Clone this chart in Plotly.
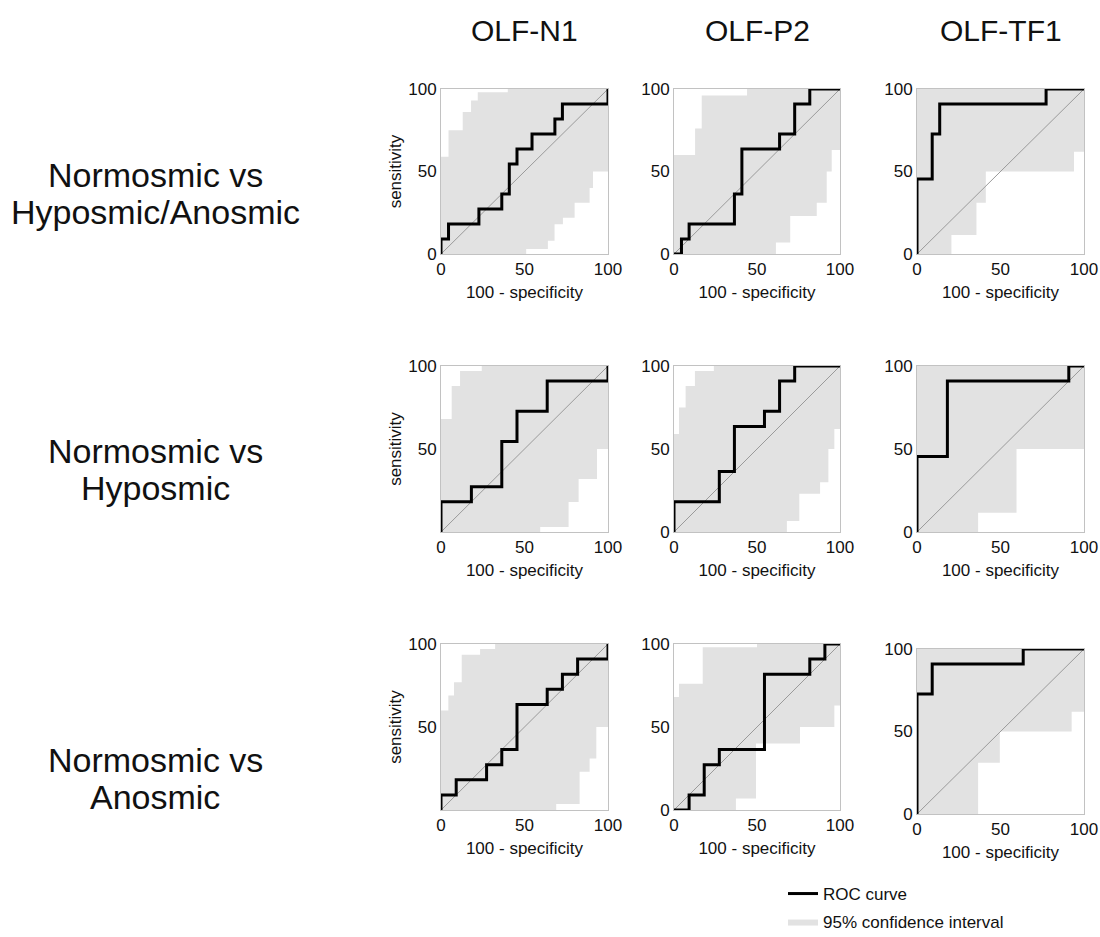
import plotly.graph_objects as go

W, H = 1100, 937
FONT = "Liberation Sans, Arial, Helvetica, sans-serif"

# ---------------- text ----------------
col_titles = ["OLF-N1", "OLF-P2", "OLF-TF1"]
row_labels = [["Normosmic vs", "Hyposmic/Anosmic"],
              ["Normosmic vs", "Hyposmic"],
              ["Normosmic vs", "Anosmic"]]
x_title = "100 - specificity"
y_title = "sensitivity"
legend_roc = "ROC curve"
legend_ci = "95% confidence interval"
tick_vals = [0, 50, 100]
diag = [0, 100]

# ---------------- data: Normosmic vs Hyposmic/Anosmic ----------------
n1_ha_fpr = [0, 0, 4.5, 22.7, 36.4, 40.9, 45.5, 54.5, 68.2, 72.7, 100]
n1_ha_tpr = [0, 9.1, 18.2, 27.3, 36.4, 54.5, 63.6, 72.7, 81.8, 90.9, 100]
n1_ha_up_x = [0, 4.5, 13, 18, 22, 40]
n1_ha_up = [59, 75, 86, 93, 98, 100]
n1_ha_lo_x = [0, 51, 64, 68, 73, 80, 89, 91]
n1_ha_lo = [0, 3, 8, 18, 22, 31, 40, 50]

p2_ha_fpr = [0, 4.5, 9.1, 36.4, 40.9, 63.6, 72.7, 81.8, 100]
p2_ha_tpr = [0, 9.1, 18.2, 36.4, 63.6, 72.7, 90.9, 100, 100]
p2_ha_up_x = [0, 12.7, 16.7, 44]
p2_ha_up = [60, 76, 96, 100]
p2_ha_lo_x = [0, 61.4, 70, 86, 92, 95]
p2_ha_lo = [0, 7, 23, 31, 50, 63]

tf1_ha_fpr = [0, 0, 9.1, 13.6, 77.3, 100]
tf1_ha_tpr = [0, 45.5, 72.7, 90.9, 100, 100]
tf1_ha_up_x = [0]
tf1_ha_up = [100]
tf1_ha_lo_x = [0, 20.6, 35.6, 41.2, 94]
tf1_ha_lo = [0, 11.5, 31, 50, 62]

# ---------------- data: Normosmic vs Hyposmic ----------------
n1_h_fpr = [0, 0, 18.2, 36.4, 45.5, 63.6, 100]
n1_h_tpr = [0, 18.2, 27.3, 54.5, 72.7, 90.9, 100]
n1_h_up_x = [0, 6.4, 11.4, 24.4]
n1_h_up = [68, 88, 97, 100]
n1_h_lo_x = [0, 59.4, 76.4, 82.4, 93.4]
n1_h_lo = [0, 3, 18, 32, 50]

p2_h_fpr = [0, 0, 27.3, 36.4, 54.5, 63.6, 72.7, 100]
p2_h_tpr = [0, 18.2, 36.4, 63.6, 72.7, 90.9, 100, 100]
p2_h_up_x = [0, 3, 7, 12.6, 24]
p2_h_up = [59, 75, 88, 97, 100]
p2_h_lo_x = [0, 68, 75.5, 88, 93, 96.6]
p2_h_lo = [0, 6.6, 23, 30, 50, 62]

tf1_h_fpr = [0, 0, 18.2, 90.9, 100]
tf1_h_tpr = [0, 45.5, 90.9, 100, 100]
tf1_h_up_x = [0]
tf1_h_up = [100]
tf1_h_lo_x = [0, 36.6, 59.6]
tf1_h_lo = [0, 11.6, 50]

# ---------------- data: Normosmic vs Anosmic ----------------
n1_a_fpr = [0, 0, 9.1, 27.3, 36.4, 45.5, 63.6, 72.7, 81.8, 100]
n1_a_tpr = [0, 9.1, 18.2, 27.3, 36.4, 63.6, 72.7, 81.8, 90.9, 100]
n1_a_up_x = [0, 4.4, 7.8, 12.4, 23.4, 32.4]
n1_a_up = [60, 69, 77, 93.5, 97, 100]
n1_a_lo_x = [0, 69, 83, 89, 93]
n1_a_lo = [0, 3.6, 23, 31, 50]

p2_a_fpr = [0, 9.1, 18.2, 27.3, 54.5, 81.8, 90.9, 100]
p2_a_tpr = [0, 9.1, 27.3, 36.4, 81.8, 90.9, 100, 100]
p2_a_up_x = [0, 3, 17.3, 50]
p2_a_up = [68, 76, 98, 100]
p2_a_lo_x = [0, 37.3, 49.4, 75.9, 96.6]
p2_a_lo = [0, 7, 40, 50, 63]

tf1_a_fpr = [0, 0, 9.1, 63.6, 100]
tf1_a_tpr = [0, 72.7, 90.9, 100, 100]
tf1_a_up_x = [0]
tf1_a_up = [100]
tf1_a_lo_x = [0, 36.6, 49.6, 92.6]
tf1_a_lo = [0, 31, 50, 62]

panels = [
    [(n1_ha_fpr, n1_ha_tpr, n1_ha_up_x, n1_ha_up, n1_ha_lo_x, n1_ha_lo),
     (p2_ha_fpr, p2_ha_tpr, p2_ha_up_x, p2_ha_up, p2_ha_lo_x, p2_ha_lo),
     (tf1_ha_fpr, tf1_ha_tpr, tf1_ha_up_x, tf1_ha_up, tf1_ha_lo_x, tf1_ha_lo)],
    [(n1_h_fpr, n1_h_tpr, n1_h_up_x, n1_h_up, n1_h_lo_x, n1_h_lo),
     (p2_h_fpr, p2_h_tpr, p2_h_up_x, p2_h_up, p2_h_lo_x, p2_h_lo),
     (tf1_h_fpr, tf1_h_tpr, tf1_h_up_x, tf1_h_up, tf1_h_lo_x, tf1_h_lo)],
    [(n1_a_fpr, n1_a_tpr, n1_a_up_x, n1_a_up, n1_a_lo_x, n1_a_lo),
     (p2_a_fpr, p2_a_tpr, p2_a_up_x, p2_a_up, p2_a_lo_x, p2_a_lo),
     (tf1_a_fpr, tf1_a_tpr, tf1_a_up_x, tf1_a_up, tf1_a_lo_x, tf1_a_lo)],
]

# ---------------- layout geometry (pixels) ----------------
col_px = [(441, 608), (674, 840), (917, 1084)]
row_px = [(89, 254), (366, 532), (644, 810)]
row_px_last_col = [(89, 254), (366, 532), (649, 814)]
label_y = [(175, 212), (451, 488), (760, 797)]


def step_path(xs, ys, xend=100):
    px, py = [], []
    for i, (x, y) in enumerate(zip(xs, ys)):
        nx = xs[i + 1] if i + 1 < len(xs) else xend
        px += [x, nx]
        py += [y, y]
    return px, py


fig = go.Figure()
layout_axes = {}
BAND = "#e2e2e2"
FRAME = "#c2c2c2"

for r in range(3):
    for c in range(3):
        k = r * 3 + c + 1
        xa = "x" if k == 1 else f"x{k}"
        ya = "y" if k == 1 else f"y{k}"
        fpr, tpr, upx, up, lox, lo = panels[r][c]
        ux, uy = step_path(upx, up)
        lx, ly = step_path(lox, lo)
        fig.add_trace(go.Scatter(
            x=ux + lx[::-1], y=uy + ly[::-1], fill="toself", fillcolor=BAND,
            mode="lines", line=dict(width=0, color=BAND), hoverinfo="skip",
            name=legend_ci, showlegend=(k == 1), legend="legend2",
            xaxis=xa, yaxis=ya))
        fig.add_trace(go.Scatter(
            x=diag, y=diag, mode="lines", line=dict(color="#9a9a9a", width=1),
            showlegend=False, hoverinfo="skip", xaxis=xa, yaxis=ya))
        fig.add_trace(go.Scatter(
            x=fpr, y=tpr, mode="lines", line=dict(color="black", width=3, shape="hv"),
            name=legend_roc, showlegend=(k == 1), legend="legend", cliponaxis=False,
            xaxis=xa, yaxis=ya))

        x0, x1 = col_px[c]
        y0, y1 = (row_px_last_col if c == 2 else row_px)[r]
        yt = [50, 100] if (c == 0 and r > 0) else tick_vals
        common = dict(range=[0, 100], showgrid=False, zeroline=False, showline=True,
                      mirror=True, linecolor=FRAME, linewidth=1, ticks="", automargin=False,
                      tickfont=dict(size=17, color="#111", family=FONT), fixedrange=True)
        layout_axes["xaxis" if k == 1 else f"xaxis{k}"] = dict(
            domain=[x0 / W, x1 / W], anchor=ya, tickvals=tick_vals,
            title=dict(text=x_title, font=dict(size=17, color="#111", family=FONT), standoff=7),
            **common)
        layout_axes["yaxis" if k == 1 else f"yaxis{k}"] = dict(
            domain=[1 - y1 / H, 1 - y0 / H], anchor=xa, tickvals=yt,
            title=dict(text=y_title if c == 0 else "", font=dict(size=17, color="#111", family=FONT), standoff=2),
            **common)

annotations = []
for c, t in enumerate(col_titles):
    cx = (col_px[c][0] + col_px[c][1]) / 2
    annotations.append(dict(text=t, x=cx / W, y=1 - 30 / H, xref="paper", yref="paper",
                            xanchor="center", yanchor="middle", showarrow=False,
                            font=dict(size=30, color="#111", family=FONT)))
for r, lines in enumerate(row_labels):
    for ln, yy in zip(lines, label_y[r]):
        annotations.append(dict(text=ln, x=155 / W, y=1 - yy / H, xref="paper", yref="paper",
                                xanchor="center", yanchor="middle", showarrow=False,
                                font=dict(size=34, color="#111", family=FONT)))

fig.update_layout(
    width=W, height=H, margin=dict(l=0, r=0, t=0, b=0, autoexpand=False),
    paper_bgcolor="white", plot_bgcolor="white",
    font=dict(family=FONT, color="#111"),
    annotations=annotations,
    legend=dict(x=783 / W, y=1 - 894 / H, xanchor="left", yanchor="middle",
                font=dict(size=17, family=FONT, color="#111"), bgcolor="rgba(0,0,0,0)"),
    legend2=dict(x=783 / W, y=1 - 922 / H, xanchor="left", yanchor="middle",
                 font=dict(size=17, family=FONT, color="#111"), bgcolor="rgba(0,0,0,0)"),
    **layout_axes,
)

fig.write_html("out.html", config={"displayModeBar": False},
               post_script="document.body.style.margin='0';")
